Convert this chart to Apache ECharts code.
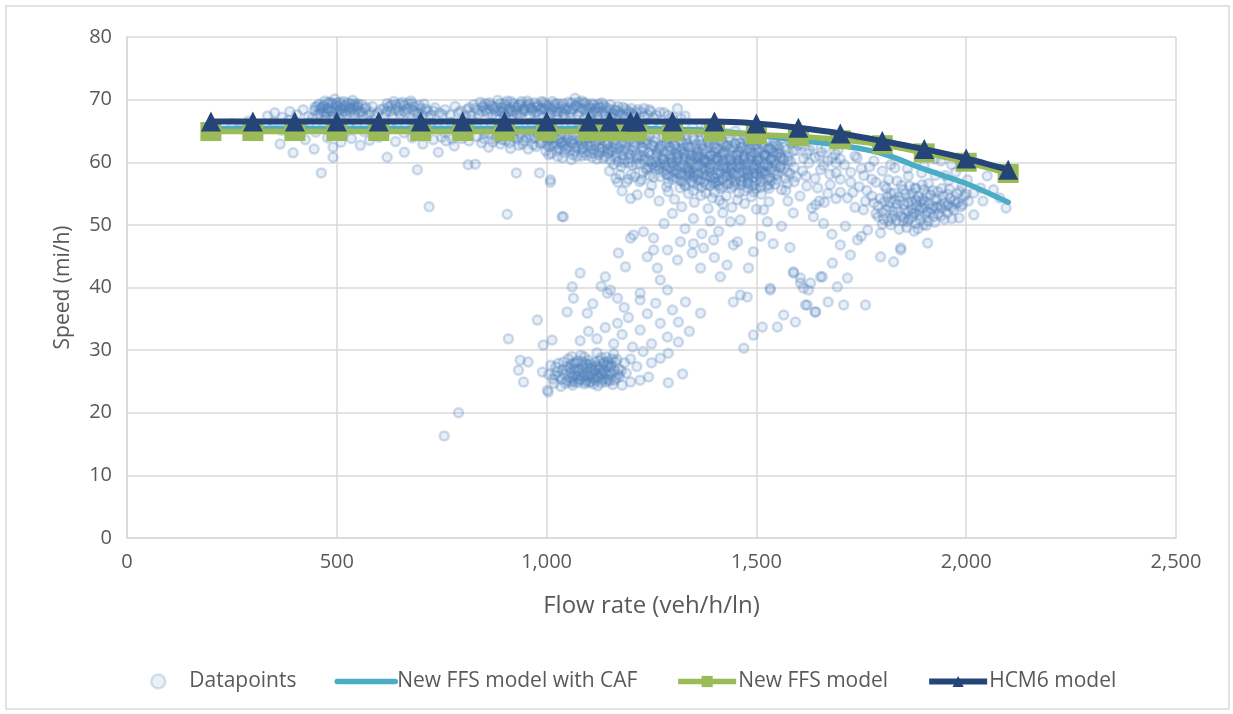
<!DOCTYPE html>
<html>
<head>
<meta charset="utf-8">
<title>Speed vs flow rate</title>
<script src="https://cdn.jsdelivr.net/npm/echarts@6/dist/echarts.min.js"></script>
<style>
  html, body { margin: 0; padding: 0; background: #ffffff; }
  #chart { width: 1233px; height: 714px; }
</style>
</head>
<body>
<div id="chart"></div>
<script>
// Model curves: flow rate (veh/h/ln) -> speed (mi/h)
const modelFlow = [200, 300, 400, 500, 600, 700, 800, 900, 1000, 1100, 1150, 1200, 1215, 1300, 1400, 1500, 1600, 1700, 1800, 1900, 2000, 2100];
const hcm6Speed = [66.5, 66.5, 66.5, 66.5, 66.5, 66.5, 66.5, 66.5, 66.5, 66.5, 66.5, 66.5, 66.5, 66.5, 66.5, 66.2, 65.5, 64.6, 63.4, 62.1, 60.6, 58.8];
const newFfsSpeed = [64.9, 64.9, 64.9, 64.9, 64.9, 64.9, 64.9, 64.9, 64.9, 64.9, 64.9, 64.9, 64.9, 64.9, 64.8, 64.4, 64.1, 63.6, 62.8, 61.5, 60.0, 58.2];
const cafFlow = [200, 400, 600, 800, 1000, 1200, 1300, 1400, 1500, 1600, 1700, 1800, 1900, 2000, 2100];
const cafSpeed = [65.4, 65.4, 65.4, 65.4, 65.4, 65.4, 65.3, 65.0, 64.4, 63.5, 62.7, 61.4, 58.9, 56.6, 53.6];

// Observed datapoints [flow rate, speed], grouped by regime
const freeFlowHigh = [
  [335,67.4],[352,67.9],[370,67.2],[388,68.1],[405,67.6],[420,68.4],[432,67.3],[448,68.8],[458,69.3],[465,68.1],[472,69.8],[480,68.6],[488,69.4],[495,70.1],[502,68.9],[508,69.6],[515,68.2],[522,69.1],[530,68.7],[538,69.9],[545,68.4],[552,67.8],[560,69.2],[568,68.5],[575,67.6],[585,68.9],[598,67.9],[612,68.6],[620,69.4],[628,68.1],[636,69.7],[645,68.8],[652,67.7],[660,69.1],[668,68.4],[676,69.8],[684,68.9],[692,67.8],[700,68.6],[708,69.3],[716,68.2],[725,67.5],[734,68.7],[745,67.9],[758,68.4],[770,67.6],[782,68.9],[795,68.2],[806,67.4],[815,68.7],[826,69.2],[835,68.3],[842,69.6],[850,68.8],[858,67.9],[866,69.1],[875,68.5],[884,69.9],[892,68.7],[900,69.4],[908,68.1],[915,69.7],[923,68.9],[930,67.8],[938,69.3],[946,68.5],[954,69.8],[962,68.7],[970,67.9],[978,69.1],[986,68.4],[994,69.6],[1002,68.2],[1010,67.6],[1018,68.9],[1026,69.4],[1035,68.1],[1043,67.4],[1052,68.8],[1060,69.5],[1068,70.2],[1076,68.7],[1084,69.8],[1092,68.3],[1100,69.1],[1108,67.7],[1116,68.6],[1124,69.3],[1132,68.0],[1140,67.4],[1150,68.5],[1160,67.8],[1170,68.9],[1182,67.5],[1194,68.2],[1206,67.6],[1218,68.4],[1232,67.3],[1248,68.1],[1262,67.5],[1280,67.9],[1300,67.2],[1312,68.6],[1330,67.4],
  [442,67.1],[447,68.3],[453,69.0],[461,67.7],[467,68.9],[474,67.4],[479,69.5],[486,68.2],[491,67.3],[497,69.2],[503,67.9],[510,68.6],[517,69.7],[524,67.6],[529,68.4],[534,69.3],[541,67.8],[547,69.0],[555,68.1],[562,67.4],[570,68.8],[580,68.0],[590,67.5],[604,68.4],[616,67.8],[624,68.9],[632,67.4],[641,69.2],[648,68.2],[656,69.6],[664,67.9],[672,68.7],[680,69.4],[688,68.0],[696,69.1],[704,67.6],[712,68.5],[720,67.3],[730,68.2],[752,67.6],[790,67.9],[810,68.4],[820,67.6],[830,68.6],[838,67.7],[846,68.1],[854,69.4],[862,68.5],[870,67.6],[879,68.9],[888,68.2],[896,67.8],[904,69.0],[912,68.6],[919,67.5],[927,68.3],[934,69.1],[942,67.9],[950,68.9],[958,69.4],[966,68.3],[974,68.8],[982,67.6],[990,68.7],[998,69.2],[1006,68.8],[1014,69.7],[1022,68.1],[1030,68.6],[1039,69.4],[1047,68.4],[1056,67.9],[1064,68.6],[1072,69.1],[1080,68.0],[1088,69.4],[1096,67.8],[1104,68.7],[1112,69.2],[1120,67.9],[1128,68.8],[1136,69.1],[1145,68.2],[1155,67.6],[1165,68.4],[1176,67.7],[1188,68.5],[1200,67.9],[1212,67.3],[1226,68.0],[1240,67.6],[1255,67.1],[1270,68.0],[1290,67.5],[1320,67.0],
  [460,68.5],[470,69.1],[476,68.0],[484,69.6],[493,68.6],[500,69.5],[506,68.3],[513,69.1],[520,68.0],[527,69.5],[536,68.5],[543,69.4],[550,68.8],[848,69.0],[856,68.3],[864,69.5],[872,68.9],[881,68.1],[890,69.4],[898,68.6],[906,69.8],[914,68.3],[922,69.4],[930,68.8],[940,69.7],[948,68.2],[956,69.1],[964,68.6],[972,69.5],[980,68.9],[988,69.7],[996,68.5],[1004,69.1],[1012,68.4],[1020,69.3],[1028,68.0],[1036,69.0],[1044,68.6],[1052,69.6],[1060,68.4],[1068,69.0],[1076,69.6],[1084,68.6],[1092,69.5],[1100,68.6],[1108,69.4],[1116,68.2],[1124,68.8],[1132,69.5],[1142,68.7],[1152,69.2],[1162,68.3],[1172,68.1],[1182,68.8],[1192,67.8],[1202,68.6],[1214,68.0],[620,68.2],[630,69.1],[640,68.4],[650,69.3],[660,68.1],[670,69.4],[683,68.3],[695,67.9],
  [455,67.6],[463,68.7],[471,67.9],[478,68.5],[489,68.0],[499,68.1],[511,67.7],[519,68.8],[532,68.0],[540,68.9],[551,69.3],[560,68.0],[880,67.3],[894,68.1],[902,67.4],[918,68.1],[936,67.6],[944,68.4],[960,67.5],[976,68.0],[992,67.3],[1008,67.9],[1024,67.5],[1040,67.8],[1058,67.2],[1074,67.6],[1090,67.1],[1106,67.9],[1122,67.4],[1138,67.8],[1154,67.2],[1168,67.4],[1186,67.2],[1232,68.6],[1245,68.4]
];
const freeFlowMid = [
  [250,66.2],[270,65.4],[290,66.6],[310,64.9],[330,65.8],[350,66.4],[368,65.1],[385,66.7],[402,64.6],[418,65.9],[435,66.3],[450,64.8],[468,65.6],[485,66.8],[500,65.2],[515,64.5],[530,66.1],[548,65.7],[565,64.9],[580,66.5],[596,65.3],[612,64.4],[628,66.2],[644,65.8],[660,64.7],[676,66.6],[692,65.4],[708,64.3],[724,66.1],[740,65.6],[756,64.8],[772,66.4],[788,65.1],[804,64.5],[820,66.8],[836,65.5],[852,64.6],[868,66.2],[884,65.3],[900,64.4],[916,66.7],[932,65.8],[948,64.9],[964,66.3],[980,65.2],[996,64.5],[1012,66.5],[1028,65.6],[1044,64.3],[1060,66.1],[1076,65.4],[1092,64.7],[1108,66.6],[1124,65.2],[1140,64.4],[1156,66.2],[1172,65.7],[1188,64.6],[1204,66.4],[1220,65.1],[1236,64.3],[1252,66.0],[1268,65.5],[1284,64.8],[1300,66.3],[1316,65.0],[1332,64.4],[1348,65.8],[1364,64.9],[1380,65.6],[1396,64.5],[1412,65.2],[1430,64.6],[1450,65.0],[1470,64.3]
];
const freeFlowLow = [
  [365,62.9],[396,61.5],[425,63.6],[446,62.1],[463,58.3],[478,63.9],[491,62.4],[491,60.8],[510,63.2],[535,63.8],[556,62.7],[578,63.5],[600,64.0],[620,60.8],[640,63.3],[661,61.6],[680,63.9],[692,58.8],[705,62.9],[720,52.9],[742,61.6],[760,63.4],[780,62.6],[798,63.8],[813,59.6],[830,59.7],[845,63.1],[862,62.4],[878,63.7],[890,62.9],[902,63.5],[906,51.7],[914,62.2],[922,63.9],[928,58.3],[934,62.7],[945,63.4],[956,62.1],[965,63.8],[975,62.5],[983,58.3],[988,63.2],[998,61.8],[1008,63.6],
  [705,64.2],[730,63.6],[750,64.0],[775,63.7],[795,64.3],[815,63.4],[835,64.1],[850,63.8],[860,64.6],[872,63.2],[882,64.0],[895,63.6],[905,64.4],[912,63.1],[920,64.2],[930,63.7],[938,64.5],[943,62.9],[952,63.9],[960,64.3],[968,62.8],[972,63.9],[980,64.4],[985,63.0],[993,64.1],[1002,63.4],[1006,62.5],[1016,64.2],[1024,62.9],[1033,63.8],[1041,62.6],[1050,64.0],[1059,63.3],[1068,62.4],[1075,64.1],[1084,63.0],[1092,63.8],[1100,62.7],[1109,64.3],[1116,63.1],[1125,62.2],[1132,64.0],[1140,63.3],[1148,61.9],[1157,63.7],[1165,62.9],[1173,64.2],[1181,63.0],[1189,62.1],[1197,63.6],[1205,64.3],[1213,62.8],[1221,63.9],[1229,62.4],[1237,63.5],[1245,64.1],[1253,62.7],[1261,63.8],[1269,62.3],[1277,64.0],[1285,63.1],[1293,62.5],[1301,63.9],[1309,62.2],[1317,64.3],[1325,62.9],[1333,63.6],[1341,62.4],[1349,64.0],[1357,62.8],[1365,63.5],[1373,62.1],[1381,64.2],[1389,62.9],[1397,63.7],[1405,62.2],[1413,64.1],[1421,63.0],[1429,62.5],[1437,63.9],[1445,62.3],[1453,64.0],[1461,63.1],[1469,62.6],[1477,63.8],[1485,62.2],[1493,63.5],[1501,62.8],[1509,64.0],[1517,62.4],[1525,63.6],[1533,62.1],[1541,63.3],[1551,62.6],[1561,63.8],[1571,62.0],[1583,63.1],[1595,61.9],[1607,62.9],[1620,61.4],[1635,62.6],[1650,61.0],[1665,62.3],[1680,60.7],[1695,62.0]
];
const transitionCluster = [
  [1000,62.8],[1012,61.4],[1020,63.9],[1030,62.2],[1038,60.7],[1046,63.4],[1055,61.9],[1063,62.9],[1072,60.9],[1080,63.7],[1088,62.3],[1096,61.1],[1104,63.2],[1112,62.0],[1120,60.5],[1128,63.6],[1136,61.7],[1144,62.8],[1152,60.3],[1160,63.4],[1168,61.5],[1176,62.6],[1184,59.9],[1192,63.8],[1200,61.2],[1208,62.4],[1216,60.6],[1224,63.5],[1232,61.8],[1240,62.9],[1248,60.1],[1256,63.3],[1264,61.4],[1272,62.6],[1280,60.4],[1288,63.7],[1296,61.9],[1304,62.8],[1312,60.7],[1320,63.4],[1328,61.3],[1336,62.5],[1344,60.2],[1352,63.6],[1360,61.6],[1368,62.9],[1376,60.5],[1384,63.2],[1392,61.1],[1400,62.4],[1408,60.3],[1416,63.5],[1424,61.8],[1432,62.7],[1440,60.6],[1448,63.1],[1456,61.4],[1464,62.3],[1472,60.2],[1480,63.4],[1488,61.7],[1496,62.6],[1504,60.4],[1512,63.0],[1520,61.3],[1528,62.2],[1536,60.7],[1546,62.9],[1556,61.5],[1566,62.4],[1576,60.3],[1588,61.8],[1600,62.7],[1612,60.6],[1626,61.9],[1640,60.8],[1655,61.6],[1670,60.2],[1688,61.3],[1700,60.5],
  [1005,61.2],[1018,62.6],[1026,60.9],[1034,63.1],[1042,61.6],[1051,62.4],[1059,60.4],[1067,61.8],[1076,62.5],[1084,61.0],[1092,63.3],[1100,61.6],[1108,60.8],[1116,62.7],[1124,61.2],[1132,62.3],[1140,60.9],[1148,63.0],[1156,61.8],[1164,60.7],[1172,62.2],[1180,61.1],[1188,62.9],[1196,60.6],[1204,62.0],[1212,61.2],[1220,59.8],[1228,62.4],[1236,60.8],[1244,61.6],[1252,59.6],[1160,59.6],[1175,58.0],[1195,59.9],[1210,57.7],[1230,58.4],[1245,57.9],[1195,57.3],[1170,56.8],
  [1003,63.9],[1015,63.0],[1027,63.6],[1039,63.2],[1051,63.7],[1063,61.2],[1075,63.4],[1087,61.5],[1099,63.9],[1111,61.4],[1123,63.5],[1135,60.6],[1147,61.4],[1159,62.3],[1171,60.1],[1183,62.0],[1195,61.4],[1207,63.1],[1219,60.9],[1231,63.2],[1243,60.3],[1025,61.9],[1045,62.1],[1065,63.6],[1085,62.0],[1105,62.5],[1125,61.6],[1145,62.2],[1165,61.1],[1185,60.4],[1205,59.5],[1225,61.0],[1245,59.2],
  [1150,58.6],[1165,57.4],[1178,59.3],[1190,56.8],[1202,58.1],[1214,59.6],[1226,57.2],[1238,58.8],[1250,56.3],[1262,59.4],[1270,57.7],[1278,58.5],[1286,56.1],[1294,59.1],[1302,57.3],[1310,58.7],[1318,55.9],[1326,59.5],[1334,57.9],[1342,58.3],[1350,56.6],[1358,59.2],[1366,57.1],[1374,58.9],[1382,56.4],[1390,59.6],[1398,57.5],[1406,58.2],[1414,55.8],[1422,59.0],[1430,57.8],[1438,58.6],[1446,56.2],[1454,59.3],[1462,57.0],[1470,58.4],[1478,56.7],[1486,59.7],[1494,57.6],[1502,58.1],[1510,56.0],[1518,59.2],[1526,57.3],[1534,58.8],[1544,56.5],[1556,59.1],[1568,57.4],[1580,58.2],[1320,57.0],[1360,58.0],[1400,56.9],[1440,57.4],[1480,58.1],[1420,60.3],[1460,59.8],[1380,60.1],[1340,59.9],[1500,59.6],
  [1232,60.4],[1240,59.0],[1248,61.2],[1255,57.6],[1260,60.0],[1268,58.9],[1275,61.0],[1282,59.6],[1290,57.9],[1297,60.6],[1304,58.4],[1311,61.3],[1318,59.2],[1325,56.9],[1332,60.8],[1339,58.6],[1346,61.1],[1353,59.5],[1360,57.2],[1367,60.7],[1374,58.1],[1381,61.4],[1388,59.0],[1395,56.7],[1402,60.5],[1409,58.8],[1416,61.0],[1423,59.4],[1430,56.5],[1437,60.2],[1444,58.3],[1451,61.2],[1458,59.1],[1465,56.9],[1472,60.9],[1479,58.7],[1486,61.3],[1493,59.3],[1500,57.1],[1507,60.6],[1514,58.5],[1521,61.0],[1528,59.7],[1535,57.0],[1542,60.3],[1550,58.0],[1558,60.8],[1566,59.0],[1574,56.6],[1582,60.1],[1300,60.0],[1320,61.8],[1340,58.0],[1360,60.9],[1380,58.6],[1400,61.6],[1420,57.3],[1440,59.6],[1460,61.7],[1480,57.8],[1500,60.9],[1520,58.1],[1540,61.6],[1440,55.9],[1470,55.4],[1410,57.0],[1350,55.5],[1380,55.1],[1500,55.8],[1530,56.4],
  [1262,61.8],[1270,59.3],[1278,60.5],[1286,58.8],[1294,61.0],[1302,59.4],[1310,60.2],[1318,58.1],[1326,61.4],[1334,59.0],[1342,60.6],[1350,58.4],[1358,61.2],[1366,59.7],[1374,60.3],[1382,57.9],[1390,61.1],[1398,59.2],[1406,60.7],[1414,58.5],[1422,61.5],[1430,59.1],[1438,60.4],[1446,58.0],[1454,61.0],[1462,59.5],[1470,60.6],[1478,58.3],[1486,60.9],[1494,59.0],[1502,60.2],[1510,58.6],[1518,61.1],[1526,59.4],[1534,60.5],[1542,58.7],[1550,61.3],[1558,59.6],[1566,60.4],[1574,58.4],[1290,56.8],[1310,57.5],[1330,56.2],[1350,57.8],[1370,56.0],[1390,57.7],[1410,56.3],[1430,58.2],[1450,56.6],[1470,57.5],[1490,56.2],[1510,57.6],[1530,55.8],[1550,57.2],[1570,55.5],[1455,54.0],[1420,53.4],[1395,54.3],[1480,55.9],
  [1255,62.5],[1268,62.1],[1281,62.8],[1294,62.3],[1307,62.6],[1320,62.2],[1333,62.9],[1346,62.4],[1359,62.0],[1372,62.7],[1385,62.3],[1398,62.8],[1411,62.1],[1424,62.6],[1437,62.2],[1450,62.9],[1463,62.4],[1476,62.0],[1489,62.7],[1502,62.3],[1515,62.8],[1528,62.0],[1541,62.5],[1554,62.1],
  [1262,61.0],[1275,60.6],[1288,61.3],[1301,60.8],[1314,61.1],[1327,60.5],[1340,61.4],[1353,60.9],[1366,61.2],[1379,60.4],[1392,61.0],[1405,60.7],[1418,61.3],[1431,60.6],[1444,61.1],[1457,60.3],[1470,61.0],[1483,60.5],[1496,61.4],[1509,60.8],[1522,61.2],[1535,60.4],[1548,61.0],[1561,60.6],
  [1258,59.2],[1271,59.8],[1284,59.4],[1297,59.9],[1310,59.3],[1323,59.7],[1336,59.1],[1349,59.8],[1362,59.5],[1375,59.9],[1388,59.2],[1401,59.7],[1414,59.4],[1427,59.9],[1440,59.1],[1453,59.6],[1466,59.3],[1479,59.8],[1492,59.5],[1505,59.0],[1518,59.6],[1531,59.2],[1544,59.7],[1557,59.3],
  [1285,58.1],[1298,57.7],[1311,58.3],[1324,57.9],[1337,58.4],[1350,57.6],[1363,58.2],[1376,57.8],[1389,58.4],[1402,57.5],[1415,58.1],[1428,57.7],[1441,58.3],[1454,57.9],[1467,58.4],[1480,57.6],[1493,58.2],[1506,57.8],[1519,58.4],[1532,57.5],[1545,58.1],
  [1330,56.5],[1345,56.9],[1360,56.3],[1375,56.8],[1390,56.2],[1405,56.7],[1420,56.1],[1435,56.6],[1450,57.0],[1465,56.4],[1480,56.8],[1495,56.3],[1510,56.9],[1525,56.2],
  [1180,55.4],[1200,54.2],[1222,56.9],[1245,55.1],[1268,53.8],[1290,55.3],[1305,54.1],[1322,52.9],[1338,55.0],[1352,53.6],[1368,54.7],[1385,52.6],[1400,55.2],[1412,53.9],[1428,54.6],[1442,52.8],[1458,55.1],[1472,53.4],[1488,54.5],[1500,52.5],[1512,54.9],[1530,53.7],[1216,54.8],[1493,55.3],[1009,56.8],[1037,51.3],[1009,57.2],[1040,51.3],
  [1560,55.6],[1575,53.8],[1590,56.9],[1604,54.6],[1618,57.8],[1632,52.7],[1646,55.9],[1653,58.8],[1662,53.6],[1676,56.4],[1690,54.2],[1700,57.3],[1588,51.9],[1641,53.2],[1636,51.3],[1517,52.4],[1526,50.5],[1462,50.8],[1438,50.5],
  [1575,60.9],[1590,59.2],[1610,58.6],[1625,59.9],[1640,57.4],[1660,59.5],[1675,58.1],[1690,59.9],[1620,56.2],[1595,57.7],[1670,55.0],[1650,53.8]
];
const highFlowCluster = [
  [1710,59.6],[1725,58.4],[1740,60.7],[1756,57.9],[1770,59.3],[1785,56.8],[1800,58.6],[1815,57.2],[1830,59.1],[1846,56.3],[1862,57.8],[1878,55.9],[1894,58.3],[1910,56.6],[1926,57.9],[1942,55.8],[1958,57.1],[1975,58.4],[1990,56.2],[2003,57.2],[2034,55.9],[2018,55.1],[2050,57.8],[2065,55.6],[2080,54.3],[2095,52.7],[1965,59.6],[1940,60.2],
  [1717,54.3],[1735,52.8],[1755,52.4],[1765,49.2],[1775,54.6],[1790,51.3],[1796,48.7],[1805,53.7],[1815,50.6],[1820,50.0],[1828,55.1],[1838,52.2],[1851,53.2],[1858,49.6],[1860,50.5],[1866,54.4],[1874,51.8],[1882,53.0],[1891,50.8],[1891,53.7],[1900,55.6],[1908,52.1],[1915,54.8],[1922,51.3],[1932,55.3],[1938,53.1],[1948,50.9],[1955,51.9],[1962,54.2],[1970,52.4],[1978,55.0],[1987,52.9],[1991,53.2],[2005,53.8],[2018,51.6],[1845,51.4],[1870,52.6],[1885,49.4],[1800,52.0],[1780,53.5],[1830,54.0],[1905,49.9],[1925,50.4],
  [1785,51.8],[1795,54.2],[1810,52.4],[1822,51.0],[1835,53.3],[1850,50.6],[1862,52.1],[1872,55.0],[1880,50.2],[1888,52.4],[1896,54.1],[1903,51.6],[1912,53.3],[1920,55.5],[1930,52.8],[1944,54.6],[1952,53.0],[1960,55.7],[1972,53.9],[1983,51.1],[1995,54.6],[1855,54.9],[1840,49.3],[1818,53.6],[1876,49.0],[1898,50.0],[1763,55.5],[1745,56.1],[1730,55.2],[1700,55.2],[1690,58.3],[1725,56.8],[1760,53.8],[1810,55.8],[1950,57.9],[2000,54.9],[2040,53.8],
  [1790,53.0],[1803,50.9],[1812,54.5],[1825,52.2],[1833,50.7],[1842,53.9],[1853,52.4],[1864,50.9],[1870,53.7],[1878,52.0],[1886,54.5],[1894,52.7],[1901,53.8],[1910,50.6],[1917,52.5],[1926,53.9],[1934,51.8],[1941,52.6],[1958,53.2],[1966,51.0],[1975,53.4],[1985,55.4],[1895,56.4],[1865,56.2],[1835,57.0],[1805,56.2],[1775,57.3],[1750,59.0],[1735,61.0],[1780,60.2],[1820,59.6],[1860,59.0],[1900,59.5],[1925,60.5],
  [1800,50.1],[1815,52.9],[1828,51.5],[1840,54.5],[1852,51.1],[1862,53.5],[1871,51.2],[1880,54.0],[1889,51.6],[1898,53.3],[1906,54.9],[1914,51.9],[1922,52.9],[1930,54.2],[1940,51.4],[1948,53.5],[1956,54.9],[1965,52.8],[1981,53.6],[1880,55.8],[1850,55.6],[1820,55.0],
  [1700,46.8],[1724,45.2],[1741,47.6],[1796,44.9],[1827,44.1],[1844,46.3],[1908,47.1],[1844,46.0],[1750,48.2],[1712,49.8],[1680,48.5],[1660,50.2],
  [1589,42.3],[1565,35.6],[1593,34.5],[1617,37.2],[1641,36.1],[1708,37.2],[1760,37.2],[1657,41.7],[1681,43.9],[1693,40.1],[1717,41.5],[1605,40.7],[1624,39.6],[1588,42.5],[1605,41.5],[1629,40.7],[1653,41.7],[1612,39.9],[1621,37.2],[1640,36.1],[1671,37.7]
];
const congested = [
  [909,31.8],[978,34.8],[937,28.4],[945,24.9],[933,26.8],[956,28.1],[1004,23.3],[992,30.8],[1013,31.6],[990,26.5],[1002,23.6],
  [1005,26.1],[1015,25.4],[1022,27.3],[1030,25.8],[1038,26.9],[1045,24.7],[1052,28.6],[1058,26.4],[1064,25.3],[1070,27.9],[1076,26.6],[1082,29.2],[1088,25.7],[1094,27.1],[1100,28.4],[1106,26.0],[1112,24.6],[1118,27.5],[1124,25.9],[1130,28.8],[1136,26.7],[1142,24.9],[1148,27.8],[1154,26.2],[1160,29.4],[1166,25.5],[1172,27.0],[1060,29.0],[1090,28.9],[1120,29.6],[1150,25.1],[1040,28.1],[1075,24.8],[1105,25.0],[1135,27.9],[1180,24.4],[1190,26.3],[1200,24.9],[1223,25.2],[1243,25.7],[1290,24.8],[1324,26.2],[1200,28.6],[1215,27.4],[1230,29.8],[1250,31.0],
  [1010,27.6],[1018,24.7],[1026,26.5],[1034,24.2],[1042,26.2],[1050,25.1],[1056,27.2],[1062,24.4],[1068,26.0],[1074,28.3],[1080,25.4],[1086,27.4],[1092,24.9],[1098,26.6],[1104,27.8],[1110,25.6],[1116,26.3],[1122,24.3],[1128,27.1],[1134,25.2],[1140,26.4],[1146,28.2],[1152,27.3],[1158,24.5],[1164,28.1],[1170,26.1],[1085,26.4],[1095,25.2],[1115,28.1],[1125,26.9],[1145,26.0],[1065,27.0],[1100,26.0],[1130,24.8],
  [1048,26.8],[1054,25.6],[1060,27.8],[1066,24.9],[1072,26.9],[1078,25.2],[1084,28.2],[1090,26.1],[1096,27.7],[1102,24.8],[1108,27.0],[1114,25.4],[1120,27.3],[1126,28.3],[1132,26.2],[1138,25.5],[1144,27.4],[1150,26.6],[1156,28.6],[1162,26.7],[1168,28.5],[1174,25.8],[1062,25.8],[1092,27.9],[1118,25.1],[1142,28.9],
  [1050,27.4],[1058,24.9],[1066,28.0],[1074,25.9],[1082,27.0],[1090,24.6],[1098,25.7],[1106,27.4],[1114,26.8],[1122,25.6],[1130,26.4],[1138,28.1],[1146,25.3],[1154,27.6],[1162,25.2],[1036,25.3],[1028,27.9],[1020,26.0],[1178,26.7],[1186,28.0],
  [1049,36.1],[1064,38.3],[1097,35.9],[1145,39.1],[1169,34.3],[1223,38.0],[1223,33.2],[1271,34.3],[1271,28.7],[1288,32.1],[1314,34.5],[1314,31.3],[1331,37.7],[1367,35.9],[1445,37.7],[1478,38.5],[1470,30.3],[1493,32.4],[1514,33.7],[1550,33.7],[1533,39.9],
  [1080,31.5],[1100,33.0],[1120,31.8],[1140,33.6],[1160,31.0],[1180,32.5],[1195,35.2],[1110,37.4],[1130,40.2],[1185,36.8],[1205,30.5],[1240,35.8],[1260,37.5],[1300,36.4],[1340,33.0],[1290,29.5],[1250,28.0],
  [1171,45.5],[1188,43.3],[1200,47.9],[1231,48.9],[1255,47.9],[1319,47.3],[1240,44.9],[1264,43.1],[1288,46.0],[1312,44.4],[1347,45.5],[1367,43.1],[1374,46.3],[1398,47.6],[1414,41.7],[1445,46.8],[1455,47.3],[1481,43.1],[1493,45.7],[1533,39.6],[1462,38.8],[1271,41.2],[1288,39.6],[1223,39.1],[1152,39.6],[1169,38.3],[1080,42.3],[1061,40.1],[1140,41.7],[1207,48.4],[1255,46.0],
  [1280,50.2],[1300,51.8],[1330,49.4],[1350,51.0],[1370,48.6],[1390,50.6],[1410,49.0],[1420,51.9],[1350,47.0],[1400,44.8],[1430,43.6],[1510,48.2],[1540,47.0],[1560,49.8],[1580,46.4],
  [756,16.3],[790,20.0]
];
const datapoints = [].concat(freeFlowHigh, freeFlowMid, freeFlowLow, transitionCluster, highFlowCluster, congested);

const xTicks = { min: 0, max: 2500, step: 500 };
const yTicks = { min: 0, max: 80, step: 10 };

const textColor = '#595959';
const gridColor = '#d9d9d9';
const fontFamily = '"Open Sans", "Noto Sans", sans-serif';

const chart = echarts.init(document.getElementById('chart'), null, { renderer: 'canvas' });

const toPairs = (xs, ys) => xs.map((x, i) => [x, ys[i]]);

chart.setOption({
  animation: false,
  backgroundColor: '#ffffff',
  textStyle: { fontFamily: fontFamily, color: textColor },
  graphic: [{
    type: 'rect',
    shape: { x: 6, y: 6, width: 1223, height: 703 },
    style: { fill: 'none', stroke: '#d9d9d9', lineWidth: 1.5 },
    silent: true
  }],
  grid: { left: 127, right: 57, top: 37, bottom: 176, containLabel: false },
  legend: {
    bottom: 17,
    left: 145,
    itemWidth: 58,
    itemHeight: 14,
    itemGap: 38,
    lineStyle: { width: 'inherit' },
    textStyle: { fontSize: 21, color: textColor, fontFamily: fontFamily, padding: [0, 0, 0, -3] },
    data: [
      { name: 'Datapoints', itemStyle: { color: 'rgba(79,129,189,0.14)', borderColor: 'rgba(79,129,189,0.28)', borderWidth: 2.5 } },
      { name: 'New FFS model with CAF', itemStyle: { color: 'rgba(0,0,0,0)', borderWidth: 0 } },
      { name: 'New FFS model' },
      { name: 'HCM6 model' }
    ]
  },
  xAxis: {
    type: 'value',
    min: xTicks.min,
    max: xTicks.max,
    interval: xTicks.step,
    name: 'Flow rate (veh/h/ln)',
    nameLocation: 'middle',
    nameGap: 56,
    nameTextStyle: { fontSize: 24, color: textColor, fontFamily: fontFamily },
    axisLine: { show: true, lineStyle: { color: gridColor, width: 1.5 } },
    axisTick: { show: false },
    axisLabel: {
      fontSize: 20, color: textColor, margin: 14, fontFamily: fontFamily,
      formatter: v => v.toLocaleString('en-US')
    },
    splitLine: { show: true, lineStyle: { color: gridColor, width: 1.5 } }
  },
  yAxis: {
    type: 'value',
    min: yTicks.min,
    max: yTicks.max,
    interval: yTicks.step,
    name: 'Speed (mi/h)',
    nameLocation: 'middle',
    nameGap: 53,
    nameRotate: 90,
    nameTextStyle: { fontSize: 21, color: textColor, fontFamily: fontFamily },
    axisLine: { show: true, lineStyle: { color: gridColor, width: 1.5 } },
    axisTick: { show: false },
    axisLabel: { fontSize: 20, color: textColor, margin: 15, fontFamily: fontFamily },
    splitLine: { show: true, lineStyle: { color: gridColor, width: 1.5 } }
  },
  series: [
    {
      name: 'Datapoints',
      type: 'scatter',
      data: datapoints,
      symbol: 'circle',
      symbolSize: 9,
      itemStyle: {
        color: 'rgba(79,129,189,0.16)',
        borderColor: 'rgba(79,129,189,0.34)',
        borderWidth: 2.5
      },
      z: 1
    },
    {
      name: 'New FFS model with CAF',
      type: 'line',
      data: toPairs(cafFlow, cafSpeed),
      smooth: 0.3,
      symbol: 'none',
      lineStyle: { color: '#4bacc6', width: 5.5, cap: 'round' },
      itemStyle: { color: '#4bacc6' },
      z: 2
    },
    {
      name: 'New FFS model',
      type: 'line',
      data: toPairs(modelFlow, newFfsSpeed),
      smooth: 0.2,
      symbol: 'rect',
      symbolSize: [21, 19],
      lineStyle: { color: '#9bbb59', width: 5.5 },
      itemStyle: { color: '#9bbb59' },
      z: 3
    },
    {
      name: 'HCM6 model',
      type: 'line',
      data: toPairs(modelFlow, hcm6Speed),
      smooth: 0.2,
      symbol: 'triangle',
      symbolSize: [20, 20],
      lineStyle: { color: '#254478', width: 6 },
      itemStyle: { color: '#254478' },
      z: 4
    }
  ]
});
</script>
</body>
</html>
